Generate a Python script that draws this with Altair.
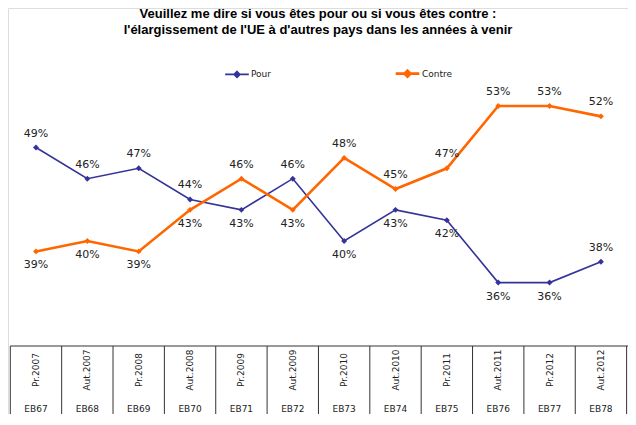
import altair as alt
import pandas as pd

periods = ["Pr.2007", "Aut.2007", "Pr.2008", "Aut.2008", "Pr.2009", "Aut.2009",
           "Pr.2010", "Aut.2010", "Pr.2011", "Aut.2011", "Pr.2012", "Aut.2012"]
waves = ["EB67", "EB68", "EB69", "EB70", "EB71", "EB72",
         "EB73", "EB74", "EB75", "EB76", "EB77", "EB78"]
pour = [49, 46, 47, 44, 43, 46, 40, 43, 42, 36, 36, 38]
contre = [39, 40, 39, 43, 46, 43, 48, 45, 47, 53, 53, 52]
pour_label_side = ["above", "above", "above", "above", "below", "above",
                   "below", "below", "below", "below", "below", "above"]
contre_label_side = ["below", "below", "below", "below", "above", "below",
                     "above", "above", "above", "above", "above", "above"]
series = ["Pour", "Contre"]
colors = ["#333399", "#FF6600"]
title_lines = ["Veuillez me dire si vous êtes pour ou si vous êtes contre :",
               "l'élargissement de l'UE à d'autres pays dans les années à venir"]

rows = []
for i in range(len(periods)):
    rows.append({"i": i, "serie": "Pour", "v": pour[i], "side": pour_label_side[i]})
    rows.append({"i": i, "serie": "Contre", "v": contre[i], "side": contre_label_side[i]})
df = pd.DataFrame(rows)
df["label"] = df["v"].astype(str) + "%"

cols = pd.DataFrame({"i": list(range(len(periods))), "period": periods, "wave": waves})
bounds = pd.DataFrame({"b": [k - 0.5 for k in range(len(periods) + 1)]})

W, H = 620, 406
xs = alt.Scale(domain=[-0.545, 11.527], nice=False, zero=False)
ys = alt.Scale(domain=[23.35, 62.43], nice=False, zero=False)
X = alt.X("i:Q", scale=xs, axis=None)
Y = alt.Y("v:Q", scale=ys, axis=None)

color = alt.Color("serie:N", scale=alt.Scale(domain=series, range=colors),
                  legend=alt.Legend(title=None, orient="none", legendX=216, legendY=52,
                                    direction="horizontal", columnPadding=118,
                                    labelFontSize=9, labelFont="DejaVu Sans",
                                    labelColor="#222222",
                                    symbolType="M-1,0L1,0M0,-0.25L0.25,0L0,0.25L-0.25,0Z",
                                    symbolSize=560, symbolStrokeWidth=2,
                                    labelOffset=1))

base = alt.Chart(df)
lines = base.mark_line().encode(
    x=X, y=Y, color=color,
    strokeWidth=alt.StrokeWidth("serie:N", scale=alt.Scale(domain=series, range=[1.6, 2.6]), legend=None),
)
points = base.mark_point(shape="diamond", filled=True, size=35, opacity=1).encode(
    x=X, y=Y, color=alt.Color("serie:N", scale=alt.Scale(domain=series, range=colors), legend=None)
)
txt_kw = dict(font="DejaVu Sans", fontSize=11, color="#222222", baseline="middle")
above = base.transform_filter(alt.datum.side == "above").mark_text(dy=-14, **txt_kw).encode(
    x=X, y=Y, text="label:N")
below = base.transform_filter(alt.datum.side == "below").mark_text(dy=14, **txt_kw).encode(
    x=X, y=Y, text="label:N")

vrules = alt.Chart(bounds).mark_rule(color="#333333", strokeWidth=1).encode(
    x=alt.X("b:Q", scale=xs, axis=None), y=alt.value(338), y2=alt.value(H))
hrule = alt.Chart(bounds).transform_filter(alt.datum.b < 0).mark_rule(
    color="#333333", strokeWidth=1).encode(
    x=alt.X("b:Q", scale=xs, axis=None), x2=alt.value(W), y=alt.value(338))
ptxt = alt.Chart(cols).mark_text(angle=270, font="DejaVu Sans", fontSize=9,
                                 color="#222222", baseline="middle", align="center").encode(
    x=alt.X("i:Q", scale=xs, axis=None), y=alt.value(362), text="period:N")
wtxt = alt.Chart(cols).mark_text(font="DejaVu Sans", fontSize=9, color="#222222",
                                 baseline="middle", align="center").encode(
    x=alt.X("i:Q", scale=xs, axis=None), y=alt.value(401), text="wave:N")

title_kw = dict(font="Liberation Sans", fontSize=13, fontWeight="bold",
                color="#000000", baseline="middle", align="center")
one = pd.DataFrame({"t": [0]})
title1 = alt.Chart(one).mark_text(text=title_lines[0], **title_kw).encode(
    x=alt.value(310), y=alt.value(6))
title2 = alt.Chart(one).mark_text(text=title_lines[1], **title_kw).encode(
    x=alt.value(310), y=alt.value(22))

chart = alt.layer(vrules, hrule, ptxt, wtxt, lines, points, above, below, title1, title2).properties(
    width=W, height=H, autosize=alt.AutoSizeParams(type="none"), padding=0
).configure_view(stroke=None).configure(background="white")

chart.save("out.html", embed_options={"renderer": "svg", "actions": False})
